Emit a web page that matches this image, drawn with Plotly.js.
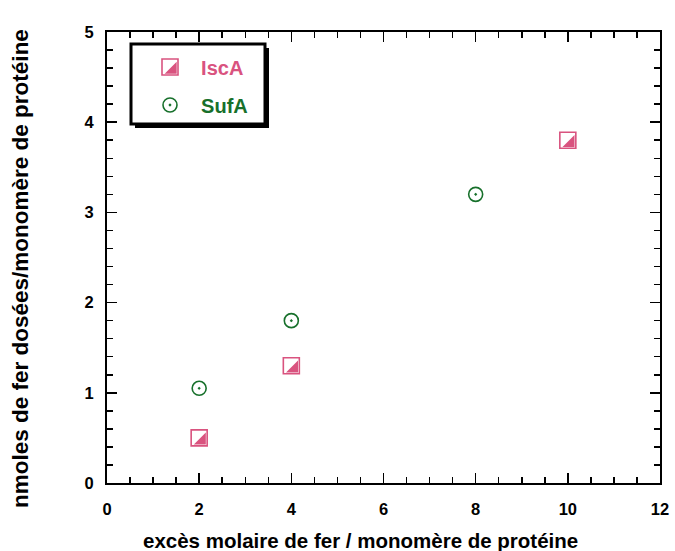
<!DOCTYPE html>
<html>
<head>
<meta charset="utf-8">
<script src="https://cdn.plot.ly/plotly-3.0.1.min.js"></script>
<style>body{margin:0;padding:0;background:#fff}</style>
</head>
<body>
<div id="chart" style="width:675px;height:551px"></div>
<script>
// ---- data ----
const iscaX = [2, 4, 10];
const iscaY = [0.5, 1.3, 3.8];
const sufaX = [2, 4, 8];
const sufaY = [1.05, 1.8, 3.2];
const seriesNames = ["IscA", "SufA"];
const xTickVals = [0, 2, 4, 6, 8, 10, 12];
const yTickVals = [0, 1, 2, 3, 4, 5];
const xTitle = "excès molaire de fer / monomère de protéine";
const yTitle = "nmoles de fer dosées/monomère de protéine";

// ---- style / geometry ----
const W = 675, H = 551;
const M = {l: 107, r: 15, t: 32, b: 68};
const PW = W - M.l - M.r, PH = H - M.t - M.b;
const xRange = [0, 12], yRange = [0, 5];
const pink = "#d9537f", green = "#17702b";
const FONT = "Liberation Sans, Arial, sans-serif";
const sqSize = 16;
const triSize = sqSize / 1.2;
const shift = sqSize / 2 - 0.8 * triSize / 2; // px offset of the triangle corner
const ax2 = xRange[0] - shift * (xRange[1] - xRange[0]) / PW;
const ay2 = yRange[0] + shift * (yRange[1] - yRange[0]) / PH;
const px = v => (v - M.l) / PW;          // pixel -> paper x
const py = v => (M.t + PH - v) / PH;     // pixel -> paper y
const pad = "\u00a0\u00a0";

const traces = [
  {x: iscaX, y: iscaY, name: pad + seriesNames[0], type: "scatter", mode: "markers",
   legend: "legend", cliponaxis: false,
   marker: {symbol: "square-open", size: sqSize, color: pink, line: {width: 1.6, color: pink}}},
  {x: iscaX, y: iscaY, name: "", type: "scatter", mode: "markers",
   legend: "legend3", xaxis: "x2", yaxis: "y2", cliponaxis: false,
   marker: {symbol: "triangle-se", size: triSize, color: pink, line: {width: 0}}},
  {x: sufaX, y: sufaY, name: pad + seriesNames[1], type: "scatter", mode: "markers",
   legend: "legend2", cliponaxis: false,
   marker: {symbol: "circle-open-dot", size: 14, color: green, line: {width: 1.6, color: green}}}
];

const axisCommon = {
  showgrid: false, zeroline: false, showline: true, linecolor: "#000", linewidth: 2,
  mirror: "allticks", ticks: "inside", ticklen: 10, tickwidth: 1.5, tickcolor: "#000",
  tickfont: {family: FONT, size: 16.5, color: "#000", weight: "bold"}
};

const legendCommon = {bgcolor: "rgba(0,0,0,0)", borderwidth: 0, xanchor: "left", yanchor: "middle",
  font: {family: FONT, size: 20, weight: "bold"}, itemclick: false, itemdoubleclick: false};

const legLeft = 150;
const layout = {
  width: W, height: H, margin: M, paper_bgcolor: "#fff", plot_bgcolor: "#fff",
  showlegend: true,
  xaxis: Object.assign({}, axisCommon, {range: xRange, tickvals: xTickVals, ticklabelstandoff: 10,
    minor: {dtick: 0.5, ticklen: 6, tickwidth: 1.5, ticks: "inside", tickcolor: "#000"}}),
  yaxis: Object.assign({}, axisCommon, {range: yRange, tickvals: yTickVals, ticklabelstandoff: 8,
    minor: {dtick: 0.2, ticklen: 6, tickwidth: 1.5, ticks: "inside", tickcolor: "#000"}}),
  xaxis2: {overlaying: "x", range: [ax2, ax2 + (xRange[1] - xRange[0])], visible: false},
  yaxis2: {overlaying: "y", range: [ay2, ay2 + (yRange[1] - yRange[0])], visible: false},
  legend: Object.assign({}, legendCommon, {x: px(legLeft), y: py(67), font: Object.assign({}, legendCommon.font, {color: pink})}),
  legend3: Object.assign({}, legendCommon, {x: px(legLeft) + shift / PW, y: py(67) - shift / PH, font: Object.assign({}, legendCommon.font, {color: "rgba(0,0,0,0)"})}),
  legend2: Object.assign({}, legendCommon, {x: px(legLeft), y: py(105), font: Object.assign({}, legendCommon.font, {color: green})}),
  shapes: [
    {type: "rect", xref: "paper", yref: "paper", x0: px(135), x1: px(269), y0: py(128), y1: py(48),
     fillcolor: "#000", line: {width: 0}},
    {type: "rect", xref: "paper", yref: "paper", x0: px(131), x1: px(265), y0: py(124), y1: py(44),
     fillcolor: "#fff", line: {width: 3, color: "#000"}}
  ],
  annotations: [
    {text: xTitle, xref: "paper", yref: "paper", x: px(360), y: py(540), xanchor: "center", yanchor: "middle",
     showarrow: false, font: {family: FONT, size: 20.5, color: "#000", weight: "bold"}},
    {text: yTitle, xref: "paper", yref: "paper", x: px(20), y: py(269), xanchor: "center", yanchor: "middle",
     textangle: -90, showarrow: false, font: {family: FONT, size: 22.5, color: "#000", weight: "bold"}}
  ]
};

Plotly.newPlot("chart", traces, layout, {staticPlot: true, displayModeBar: false});
</script>
</body>
</html>
